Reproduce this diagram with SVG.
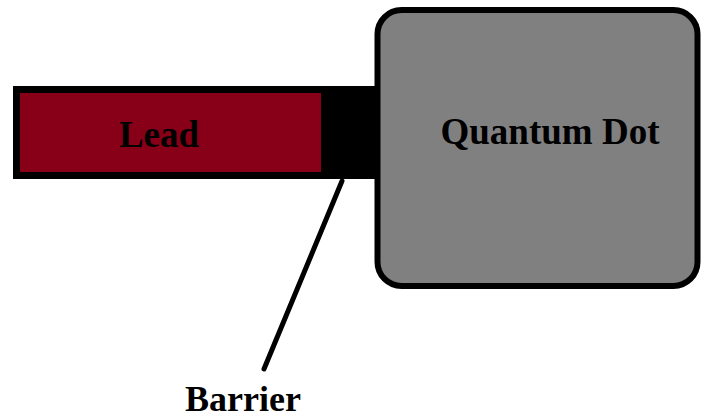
<svg xmlns="http://www.w3.org/2000/svg" width="701" height="420" viewBox="0 0 701 420">
<style>
text{font-family:"Liberation Serif","Times New Roman",serif;font-weight:bold;font-size:37px;fill:#000;text-anchor:middle}
</style>
<rect width="701" height="420" fill="#fff"/>
<g id="barrier">
<rect x="13" y="86" width="372" height="93" fill="#000"/>
</g>
<g id="lead">
<rect x="20" y="93" width="301" height="79" fill="#880017"/>
<text x="159" y="147">Lead</text>
</g>
<g id="quantum-dot">
<rect x="377.5" y="10" width="320" height="276" rx="24" ry="24" fill="#808080" stroke="#000" stroke-width="6"/>
<text x="550" y="144">Quantum Dot</text>
</g>
<g id="connectors">
<line x1="342" y1="181" x2="264" y2="369" stroke="#000" stroke-width="5" stroke-linecap="round"/>
</g>
<g id="barrier-label">
<text x="243" y="411" style="font-size:36px">Barrier</text>
</g>
</svg>
